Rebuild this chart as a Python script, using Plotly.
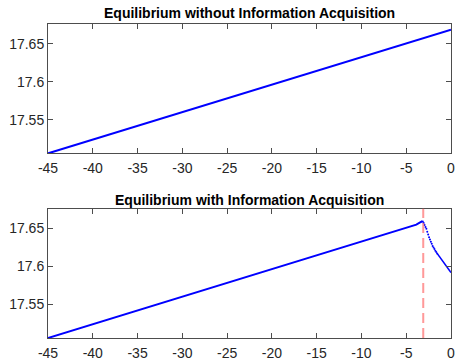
import plotly.graph_objects as go

# Top panel: equilibrium without information acquisition
top_x = [-45, 0]
top_y = [17.506, 17.6685]

# Bottom panel: equilibrium with information acquisition
bot_solid_x = [-45, -6.08, -4.61, -3.87, -3.50, -3.20]
bot_solid_y = [17.506, 17.6465, 17.652, 17.655, 17.6577, 17.6594]

bot_dot_x = [-3.15, -3.05, -2.95, -2.85, -2.75, -2.65, -2.55, -2.45, -2.35, -2.25,
             -2.15, -2.05, -1.95, -1.85, -1.75, -1.65, -1.55]
bot_dot_y = [17.6590, 17.657, 17.6545, 17.652, 17.6495, 17.6455, 17.642, 17.6385, 17.6355,
             17.6325, 17.6298, 17.627, 17.6248, 17.6228, 17.6208, 17.619, 17.6172]

bot_tail_x = [-1.55, -1.2, -0.92, -0.6, -0.19, 0]
bot_tail_y = [17.6172, 17.6115, 17.6073, 17.6025, 17.5965, 17.592]

threshold_x = -3.1

x_ticks = [-45, -40, -35, -30, -25, -20, -15, -10, -5, 0]
x_tick_text = ["-45", "-40", "-35", "-30", "-25", "-20", "-15", "-10", "-5", "0"]
y_ticks = [17.55, 17.6, 17.65]
y_tick_text = ["17.55", "17.6", "17.65"]

titles = ["Equilibrium without Information Acquisition",
          "Equilibrium with Information Acquisition"]

blue = "#0000ff"
fig = go.Figure()
fig.add_trace(go.Scatter(x=top_x, y=top_y, mode="lines",
                         line=dict(color=blue, width=2), xaxis="x", yaxis="y"))
fig.add_trace(go.Scatter(x=bot_solid_x, y=bot_solid_y, mode="lines",
                         line=dict(color=blue, width=2), xaxis="x2", yaxis="y2"))
fig.add_trace(go.Scatter(x=bot_dot_x, y=bot_dot_y, mode="markers",
                         marker=dict(color=blue, size=2), xaxis="x2", yaxis="y2"))
fig.add_trace(go.Scatter(x=bot_tail_x, y=bot_tail_y, mode="lines",
                         line=dict(color=blue, width=1.6), xaxis="x2", yaxis="y2"))

fig.add_shape(type="line", xref="x2", yref="y2 domain", x0=threshold_x, x1=threshold_x,
              y0=0, y1=1, line=dict(color="rgba(255,110,110,0.7)", width=2, dash="10px,5px"))

axcommon = dict(showline=True, linecolor="#4d4d4d", linewidth=1, mirror="ticks",
                ticks="inside", ticklen=5, tickcolor="#4d4d4d", showgrid=False,
                zeroline=False, ticklabeloverflow="allow",
                tickfont=dict(family="Liberation Sans, Arial", size=14, color="#262626"))

fig.update_layout(
    width=456, height=362,
    margin=dict(l=48, r=1, t=24, b=20),
    paper_bgcolor="white", plot_bgcolor="white",
    showlegend=False,
    xaxis=dict(domain=[0, 1], anchor="y", range=[-45, 0], tickvals=x_ticks,
               ticktext=x_tick_text, ticklabelstandoff=2, **axcommon),
    yaxis=dict(domain=[0.588, 1], anchor="x", range=[17.506, 17.676],
               tickvals=y_ticks, ticktext=y_tick_text, **axcommon),
    xaxis2=dict(domain=[0, 1], anchor="y2", range=[-45, 0], tickvals=x_ticks,
                ticktext=x_tick_text, ticklabelstandoff=2, **axcommon),
    yaxis2=dict(domain=[0, 0.412], anchor="x2", range=[17.506, 17.676],
                tickvals=y_ticks, ticktext=y_tick_text, **axcommon),
    annotations=[
        dict(text="<b>" + titles[0] + "</b>", xref="x domain", yref="y domain", x=0.5, y=1,
             yshift=1, xanchor="center", yanchor="bottom", showarrow=False,
             font=dict(family="Liberation Sans, Arial", size=14, color="black")),
        dict(text="<b>" + titles[1] + "</b>", xref="x2 domain", yref="y2 domain", x=0.5, y=1,
             yshift=-1, xanchor="center", yanchor="bottom", showarrow=False,
             font=dict(family="Liberation Sans, Arial", size=14, color="black")),
    ],
)

fig.write_html("out.html", config={"displayModeBar": False},
               post_script="document.body.style.margin='0';document.body.style.overflow='hidden';")
